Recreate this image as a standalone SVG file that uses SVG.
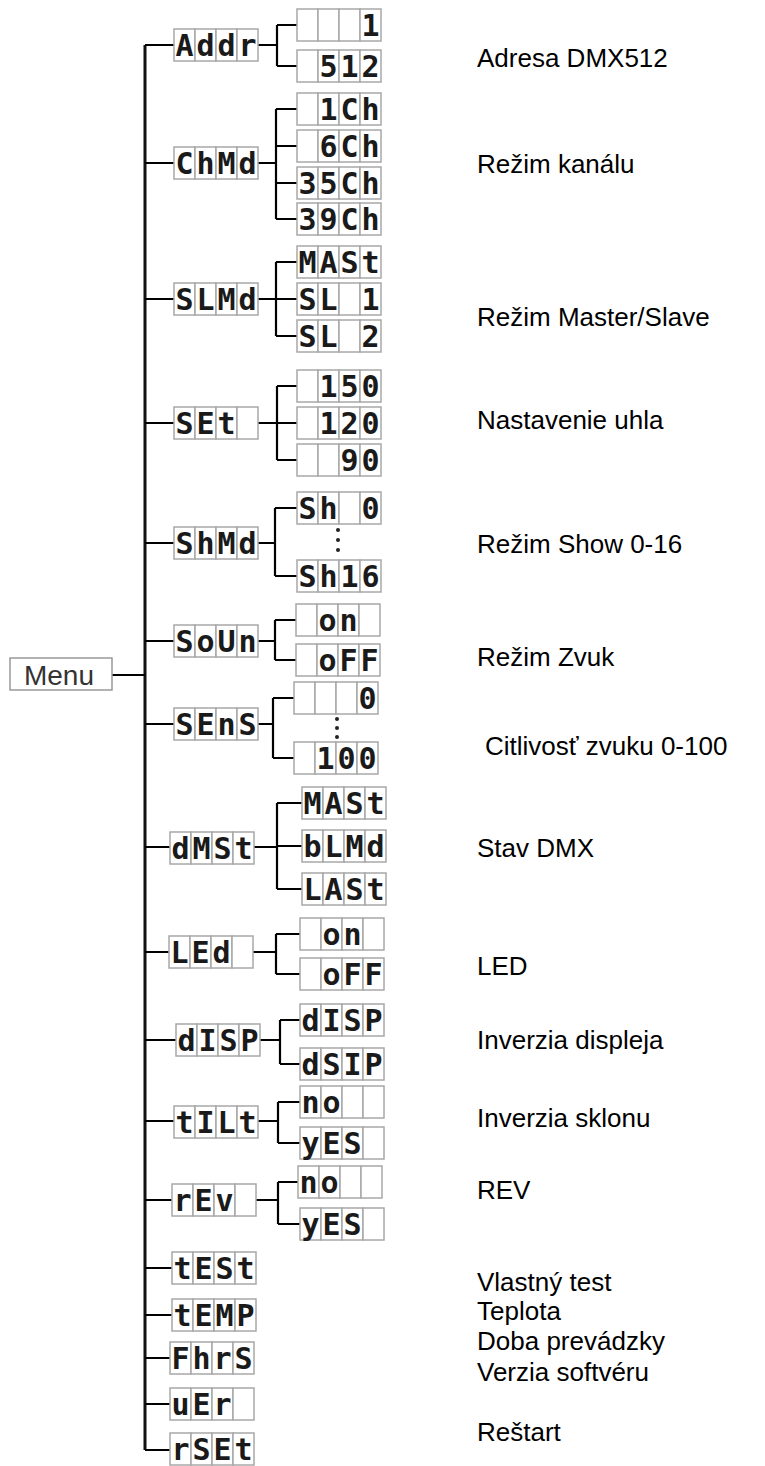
<svg xmlns="http://www.w3.org/2000/svg" xmlns:xlink="http://www.w3.org/1999/xlink" width="765" height="1466" viewBox="0 0 765 1466">
<style>
.cell{fill:#fff;stroke:#a8a8a8;stroke-width:1.5}
.seg{font-family:"DejaVu Sans Mono","Liberation Mono",monospace;font-weight:bold;font-size:30px;fill:#1a1a1a;text-anchor:middle}
.lbl{font-family:"Liberation Sans",Arial,sans-serif;font-size:26px;fill:#000}
.menu{font-family:"Liberation Sans",Arial,sans-serif;font-size:28px;fill:#333;text-anchor:middle}
.wire{stroke:#000;stroke-width:2.2;fill:none}
.trunk{stroke:#111;stroke-width:3;fill:none}
.dot{fill:#222}
</style>
<defs>
<g id="d4">
<rect class="cell" x="0" y="0" width="21" height="32"/>
<rect class="cell" x="21" y="0" width="21" height="32"/>
<rect class="cell" x="42" y="0" width="21" height="32"/>
<rect class="cell" x="63" y="0" width="21" height="32"/>
</g>
</defs>
<rect width="765" height="1466" fill="#fff"/>

<g id="connectors">
<path class="trunk" d="M145,45 V1450"/>
<path class="wire" d="M112,675 H145"/>
<path class="wire" d="M145,45 H174 M145,163 H174 M145,299 H174 M145,423 H174 M145,543 H174 M145,641 H174 M145,724 H174 M145,847 H170 M145,952 H169 M145,1040 H176 M145,1121 H174 M145,1200 H172 M145,1268 H172 M145,1315 H172 M145,1358 H170 M145,1404 H170 M145,1450 H170"/>
<path class="wire" d="M258,45 H277 M277,25 V66 M277,25 H297 M277,66 H297"/>
<path class="wire" d="M258,163 H276 M276,109 V219 M276,109 H297 M276,146 H297 M276,183 H297 M276,219 H297"/>
<path class="wire" d="M258,299 H276 M276,262 V336 M276,262 H297 M276,299 H297 M276,336 H297"/>
<path class="wire" d="M258,423 H277 M277,386 V460 M277,386 H297 M277,423 H297 M277,460 H297"/>
<path class="wire" d="M258,543 H275 M275,508 V576 M275,508 H297 M275,576 H297"/>
<path class="wire" d="M258,641 H275 M275,620 V660 M275,620 H296 M275,660 H296"/>
<path class="wire" d="M258,724 H273 M273,698 V758 M273,698 H294 M273,758 H294"/>
<path class="wire" d="M254,847 H277 M277,803 V889 M277,803 H302 M277,846 H302 M277,889 H302"/>
<path class="wire" d="M253,952 H276 M276,934 V974 M276,934 H300 M276,974 H300"/>
<path class="wire" d="M260,1040 H280 M280,1020 V1064 M280,1020 H300 M280,1064 H300"/>
<path class="wire" d="M258,1121 H278 M278,1102 V1143 M278,1102 H300 M278,1143 H300"/>
<path class="wire" d="M256,1200 H278 M278,1182 V1224 M278,1182 H298 M278,1224 H300"/>
</g>

<g id="menu">
<rect x="10" y="658" width="102" height="32" fill="#fff" stroke="#999" stroke-width="1.5"/>
<text class="menu" x="59" y="685">Menu</text>
</g>

<g id="addr" transform="translate(174,29)"><use xlink:href="#d4"/><text class="seg" y="27"><tspan x="10.5">A</tspan><tspan x="31.5">d</tspan><tspan x="52.5">d</tspan><tspan x="73.5">r</tspan></text></g>
<g id="addr-1" transform="translate(297,9)"><use xlink:href="#d4"/><text class="seg" y="27"><tspan x="73.5">1</tspan></text></g>
<g id="addr-512" transform="translate(297,50)"><use xlink:href="#d4"/><text class="seg" y="27"><tspan x="31.5">5</tspan><tspan x="52.5">1</tspan><tspan x="73.5">2</tspan></text></g>

<g id="chmd" transform="translate(174,147)"><use xlink:href="#d4"/><text class="seg" y="27"><tspan x="10.5">C</tspan><tspan x="31.5">h</tspan><tspan x="52.5">M</tspan><tspan x="73.5">d</tspan></text></g>
<g id="ch-1" transform="translate(297,93)"><use xlink:href="#d4"/><text class="seg" y="27"><tspan x="31.5">1</tspan><tspan x="52.5">C</tspan><tspan x="73.5">h</tspan></text></g>
<g id="ch-6" transform="translate(297,130)"><use xlink:href="#d4"/><text class="seg" y="27"><tspan x="31.5">6</tspan><tspan x="52.5">C</tspan><tspan x="73.5">h</tspan></text></g>
<g id="ch-35" transform="translate(297,167)"><use xlink:href="#d4"/><text class="seg" y="27"><tspan x="10.5">3</tspan><tspan x="31.5">5</tspan><tspan x="52.5">C</tspan><tspan x="73.5">h</tspan></text></g>
<g id="ch-39" transform="translate(297,203)"><use xlink:href="#d4"/><text class="seg" y="27"><tspan x="10.5">3</tspan><tspan x="31.5">9</tspan><tspan x="52.5">C</tspan><tspan x="73.5">h</tspan></text></g>

<g id="slmd" transform="translate(174,283)"><use xlink:href="#d4"/><text class="seg" y="27"><tspan x="10.5">S</tspan><tspan x="31.5">L</tspan><tspan x="52.5">M</tspan><tspan x="73.5">d</tspan></text></g>
<g id="sl-mast" transform="translate(297,246)"><use xlink:href="#d4"/><text class="seg" y="27"><tspan x="10.5">M</tspan><tspan x="31.5">A</tspan><tspan x="52.5">S</tspan><tspan x="73.5">t</tspan></text></g>
<g id="sl-1" transform="translate(297,283)"><use xlink:href="#d4"/><text class="seg" y="27"><tspan x="10.5">S</tspan><tspan x="31.5">L</tspan><tspan x="73.5">1</tspan></text></g>
<g id="sl-2" transform="translate(297,320)"><use xlink:href="#d4"/><text class="seg" y="27"><tspan x="10.5">S</tspan><tspan x="31.5">L</tspan><tspan x="73.5">2</tspan></text></g>

<g id="set" transform="translate(174,407)"><use xlink:href="#d4"/><text class="seg" y="27"><tspan x="10.5">S</tspan><tspan x="31.5">E</tspan><tspan x="52.5">t</tspan></text></g>
<g id="set-150" transform="translate(297,370)"><use xlink:href="#d4"/><text class="seg" y="27"><tspan x="31.5">1</tspan><tspan x="52.5">5</tspan><tspan x="73.5">0</tspan></text></g>
<g id="set-120" transform="translate(297,407)"><use xlink:href="#d4"/><text class="seg" y="27"><tspan x="31.5">1</tspan><tspan x="52.5">2</tspan><tspan x="73.5">0</tspan></text></g>
<g id="set-90" transform="translate(297,444)"><use xlink:href="#d4"/><text class="seg" y="27"><tspan x="52.5">9</tspan><tspan x="73.5">0</tspan></text></g>

<g id="shmd" transform="translate(174,527)"><use xlink:href="#d4"/><text class="seg" y="27"><tspan x="10.5">S</tspan><tspan x="31.5">h</tspan><tspan x="52.5">M</tspan><tspan x="73.5">d</tspan></text></g>
<g id="sh-0" transform="translate(297,492)"><use xlink:href="#d4"/><text class="seg" y="27"><tspan x="10.5">S</tspan><tspan x="31.5">h</tspan><tspan x="73.5">0</tspan></text></g>
<g id="sh-dots"><circle class="dot" cx="338" cy="530" r="2"/><circle class="dot" cx="338" cy="540" r="2"/><circle class="dot" cx="338" cy="550" r="2"/></g>
<g id="sh-16" transform="translate(297,560)"><use xlink:href="#d4"/><text class="seg" y="27"><tspan x="10.5">S</tspan><tspan x="31.5">h</tspan><tspan x="52.5">1</tspan><tspan x="73.5">6</tspan></text></g>

<g id="soun" transform="translate(174,625)"><use xlink:href="#d4"/><text class="seg" y="27"><tspan x="10.5">S</tspan><tspan x="31.5">o</tspan><tspan x="52.5">U</tspan><tspan x="73.5">n</tspan></text></g>
<g id="soun-on" transform="translate(296,604)"><use xlink:href="#d4"/><text class="seg" y="27"><tspan x="31.5">o</tspan><tspan x="52.5">n</tspan></text></g>
<g id="soun-off" transform="translate(296,644)"><use xlink:href="#d4"/><text class="seg" y="27"><tspan x="31.5">o</tspan><tspan x="52.5">F</tspan><tspan x="73.5">F</tspan></text></g>

<g id="sens" transform="translate(174,708)"><use xlink:href="#d4"/><text class="seg" y="27"><tspan x="10.5">S</tspan><tspan x="31.5">E</tspan><tspan x="52.5">n</tspan><tspan x="73.5">S</tspan></text></g>
<g id="sens-0" transform="translate(294,682)"><use xlink:href="#d4"/><text class="seg" y="27"><tspan x="73.5">0</tspan></text></g>
<g id="sens-dots"><circle class="dot" cx="337" cy="719" r="2"/><circle class="dot" cx="337" cy="728" r="2"/><circle class="dot" cx="337" cy="737" r="2"/></g>
<g id="sens-100" transform="translate(294,742)"><use xlink:href="#d4"/><text class="seg" y="27"><tspan x="31.5">1</tspan><tspan x="52.5">0</tspan><tspan x="73.5">0</tspan></text></g>

<g id="dmst" transform="translate(170,832)"><use xlink:href="#d4"/><text class="seg" y="27"><tspan x="10.5">d</tspan><tspan x="31.5">M</tspan><tspan x="52.5">S</tspan><tspan x="73.5">t</tspan></text></g>
<g id="dm-mast" transform="translate(302,787)"><use xlink:href="#d4"/><text class="seg" y="27"><tspan x="10.5">M</tspan><tspan x="31.5">A</tspan><tspan x="52.5">S</tspan><tspan x="73.5">t</tspan></text></g>
<g id="dm-blmd" transform="translate(302,830)"><use xlink:href="#d4"/><text class="seg" y="27"><tspan x="10.5">b</tspan><tspan x="31.5">L</tspan><tspan x="52.5">M</tspan><tspan x="73.5">d</tspan></text></g>
<g id="dm-last" transform="translate(302,873)"><use xlink:href="#d4"/><text class="seg" y="27"><tspan x="10.5">L</tspan><tspan x="31.5">A</tspan><tspan x="52.5">S</tspan><tspan x="73.5">t</tspan></text></g>

<g id="led" transform="translate(169,936)"><use xlink:href="#d4"/><text class="seg" y="27"><tspan x="10.5">L</tspan><tspan x="31.5">E</tspan><tspan x="52.5">d</tspan></text></g>
<g id="led-on" transform="translate(300,918)"><use xlink:href="#d4"/><text class="seg" y="27"><tspan x="31.5">o</tspan><tspan x="52.5">n</tspan></text></g>
<g id="led-off" transform="translate(300,958)"><use xlink:href="#d4"/><text class="seg" y="27"><tspan x="31.5">o</tspan><tspan x="52.5">F</tspan><tspan x="73.5">F</tspan></text></g>

<g id="disp" transform="translate(176,1024)"><use xlink:href="#d4"/><text class="seg" y="27"><tspan x="10.5">d</tspan><tspan x="31.5">I</tspan><tspan x="52.5">S</tspan><tspan x="73.5">P</tspan></text></g>
<g id="disp-disp" transform="translate(300,1004)"><use xlink:href="#d4"/><text class="seg" y="27"><tspan x="10.5">d</tspan><tspan x="31.5">I</tspan><tspan x="52.5">S</tspan><tspan x="73.5">P</tspan></text></g>
<g id="disp-dsip" transform="translate(300,1048)"><use xlink:href="#d4"/><text class="seg" y="27"><tspan x="10.5">d</tspan><tspan x="31.5">S</tspan><tspan x="52.5">I</tspan><tspan x="73.5">P</tspan></text></g>

<g id="tilt" transform="translate(174,1106)"><use xlink:href="#d4"/><text class="seg" y="27"><tspan x="10.5">t</tspan><tspan x="31.5">I</tspan><tspan x="52.5">L</tspan><tspan x="73.5">t</tspan></text></g>
<g id="tilt-no" transform="translate(300,1086)"><use xlink:href="#d4"/><text class="seg" y="27"><tspan x="10.5">n</tspan><tspan x="31.5">o</tspan></text></g>
<g id="tilt-yes" transform="translate(300,1127)"><use xlink:href="#d4"/><text class="seg" y="27"><tspan x="10.5">y</tspan><tspan x="31.5">E</tspan><tspan x="52.5">S</tspan></text></g>

<g id="rev" transform="translate(172,1184)"><use xlink:href="#d4"/><text class="seg" y="27"><tspan x="10.5">r</tspan><tspan x="31.5">E</tspan><tspan x="52.5">v</tspan></text></g>
<g id="rev-no" transform="translate(298,1166)"><use xlink:href="#d4"/><text class="seg" y="27"><tspan x="10.5">n</tspan><tspan x="31.5">o</tspan></text></g>
<g id="rev-yes" transform="translate(300,1208)"><use xlink:href="#d4"/><text class="seg" y="27"><tspan x="10.5">y</tspan><tspan x="31.5">E</tspan><tspan x="52.5">S</tspan></text></g>

<g id="test" transform="translate(172,1252)"><use xlink:href="#d4"/><text class="seg" y="27"><tspan x="10.5">t</tspan><tspan x="31.5">E</tspan><tspan x="52.5">S</tspan><tspan x="73.5">t</tspan></text></g>
<g id="temp" transform="translate(172,1299)"><use xlink:href="#d4"/><text class="seg" y="27"><tspan x="10.5">t</tspan><tspan x="31.5">E</tspan><tspan x="52.5">M</tspan><tspan x="73.5">P</tspan></text></g>
<g id="fhrs" transform="translate(170,1342)"><use xlink:href="#d4"/><text class="seg" y="27"><tspan x="10.5">F</tspan><tspan x="31.5">h</tspan><tspan x="52.5">r</tspan><tspan x="73.5">S</tspan></text></g>
<g id="uer" transform="translate(170,1388)"><use xlink:href="#d4"/><text class="seg" y="27"><tspan x="10.5">u</tspan><tspan x="31.5">E</tspan><tspan x="52.5">r</tspan></text></g>
<g id="rset" transform="translate(170,1433)"><use xlink:href="#d4"/><text class="seg" y="27"><tspan x="10.5">r</tspan><tspan x="31.5">S</tspan><tspan x="52.5">E</tspan><tspan x="73.5">t</tspan></text></g>

<g id="labels">
<text class="lbl" x="477" y="67">Adresa DMX512</text>
<text class="lbl" x="477" y="173">Režim kanálu</text>
<text class="lbl" x="477" y="326">Režim Master/Slave</text>
<text class="lbl" x="477" y="429">Nastavenie uhla</text>
<text class="lbl" x="477" y="553">Režim Show 0-16</text>
<text class="lbl" x="477" y="666">Režim Zvuk</text>
<text class="lbl" x="485" y="755">Citlivosť zvuku 0-100</text>
<text class="lbl" x="477" y="857">Stav DMX</text>
<text class="lbl" x="477" y="975">LED</text>
<text class="lbl" x="477" y="1049">Inverzia displeja</text>
<text class="lbl" x="477" y="1127">Inverzia sklonu</text>
<text class="lbl" x="477" y="1199">REV</text>
<text class="lbl" x="477" y="1291">Vlastný test</text>
<text class="lbl" x="477" y="1320">Teplota</text>
<text class="lbl" x="477" y="1350">Doba prevádzky</text>
<text class="lbl" x="477" y="1381">Verzia softvéru</text>
<text class="lbl" x="477" y="1441">Reštart</text>
</g>
</svg>
